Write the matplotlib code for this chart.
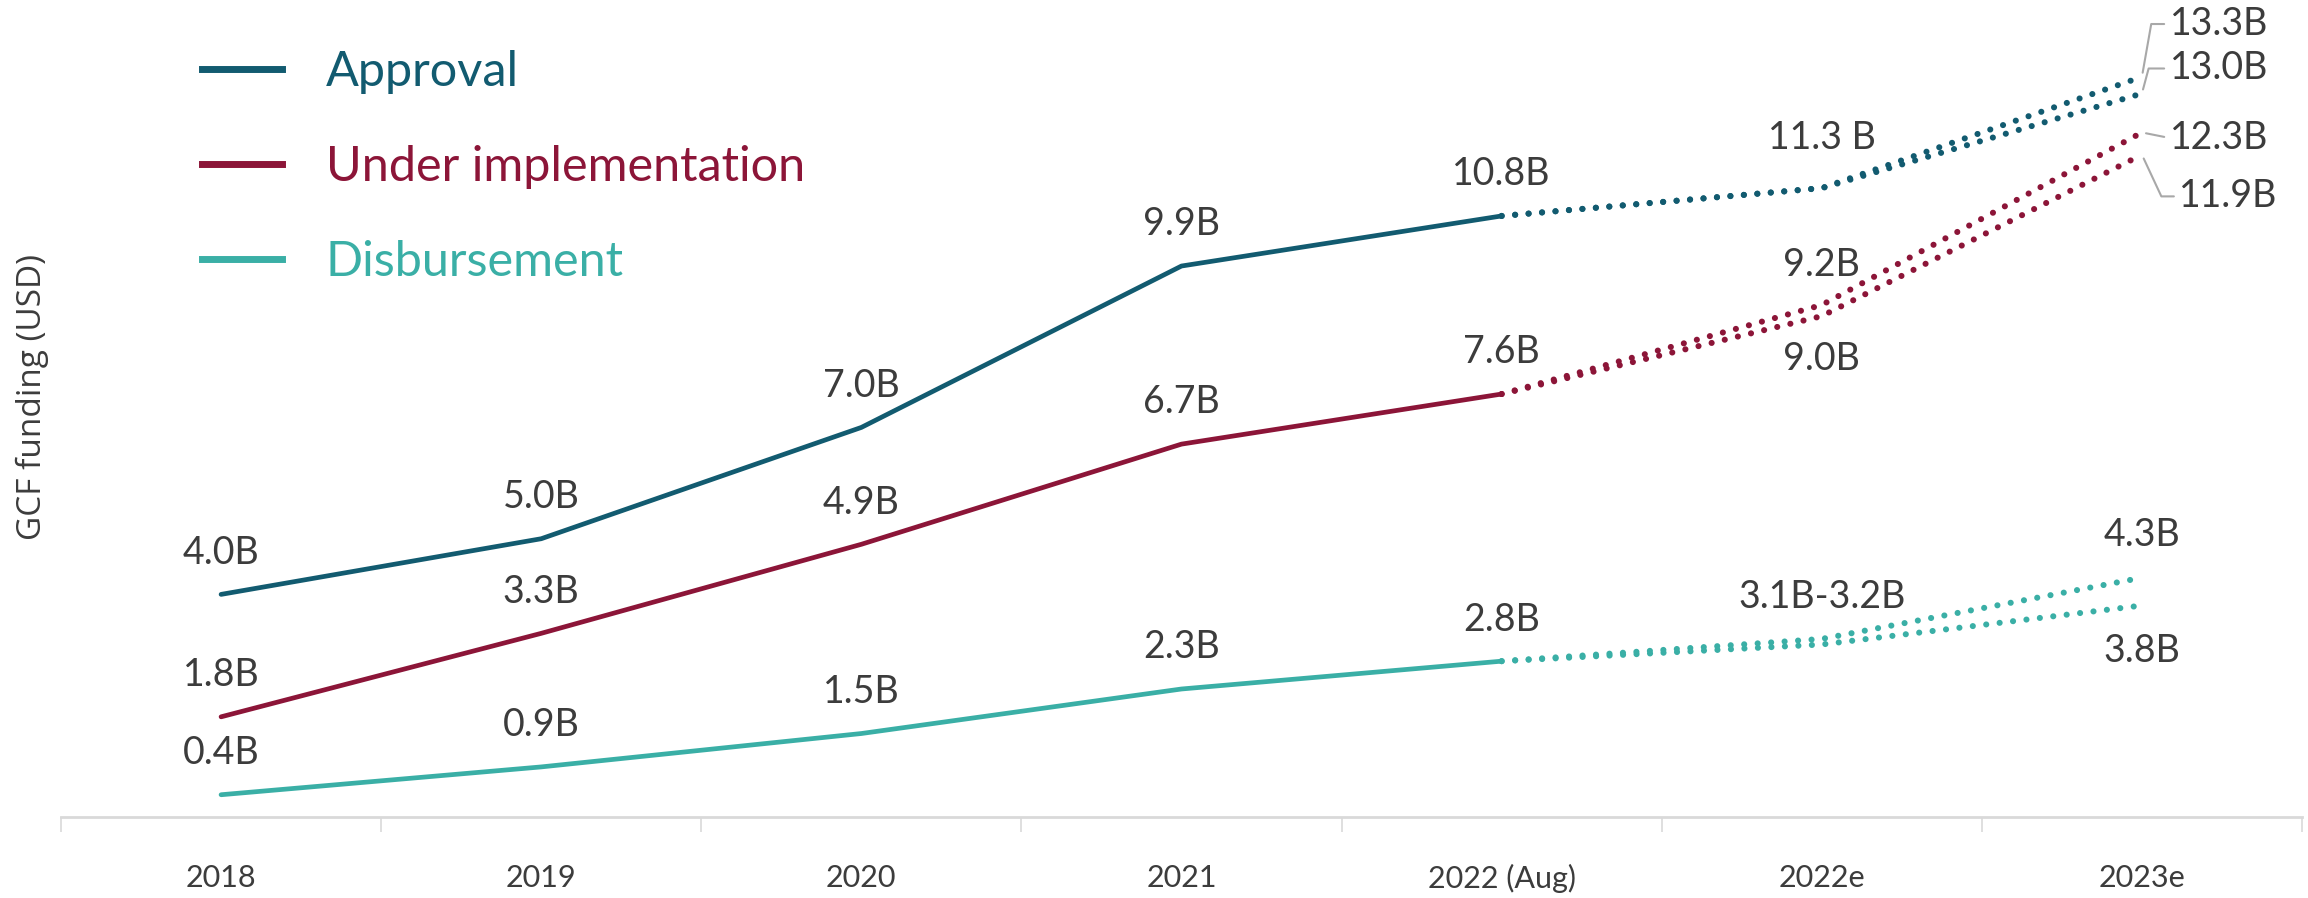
import matplotlib.pyplot as plt
from matplotlib.lines import Line2D

plt.rcParams['font.family'] = ['Lato', 'DejaVu Sans']

years = ['2018', '2019', '2020', '2021', '2022 (Aug)', '2022e', '2023e']

# actuals 2018 .. 2022 (Aug)
approval = [4.0, 5.0, 7.0, 9.9, 10.8]
under_impl = [1.8, 3.3, 4.9, 6.7, 7.6]
disbursement = [0.4, 0.9, 1.5, 2.3, 2.8]

# projections 2022 (Aug) -> 2022e -> 2023e (high / low)
approval_hi = [10.8, 11.3, 13.3]
approval_lo = [10.8, 11.3, 13.0]
under_hi = [7.6, 9.2, 12.3]
under_lo = [7.6, 9.0, 11.9]
disb_hi = [2.8, 3.2, 4.3]
disb_lo = [2.8, 3.1, 3.8]

approval_labels = ['4.0B', '5.0B', '7.0B', '9.9B', '10.8B']
under_labels = ['1.8B', '3.3B', '4.9B', '6.7B', '7.6B']
disb_labels = ['0.4B', '0.9B', '1.5B', '2.3B', '2.8B']

c_app = '#125b70'
c_und = '#8c1538'
c_dis = '#3aafa6'
c_txt = '#3c3c3c'
c_lead = '#a8a8a8'

fig = plt.figure(figsize=(23.08, 8.98), dpi=100)
ax = fig.add_axes([61 / 2308, 81 / 898, (2302 - 61) / 2308, 1 - 81 / 898])

x_act = list(range(5))
x_proj = [4, 5, 6]

lw = 3.4
for vals, col in [(approval, c_app), (under_impl, c_und), (disbursement, c_dis)]:
    ax.plot(x_act, vals, color=col, lw=lw, solid_capstyle='round', zorder=3)

dot = (0, (0.01, 2.2))
for vals, col in [(approval_hi, c_app), (approval_lo, c_app), (under_hi, c_und),
                  (under_lo, c_und), (disb_hi, c_dis), (disb_lo, c_dis)]:
    ax.plot(x_proj, vals, color=col, lw=4.4, linestyle=dot, dash_capstyle='round', zorder=3)

fs_lab = 27
def lab(x, y, s, dy=30, dx=0, ha='center'):
    ax.annotate(s, (x, y), xytext=(dx, dy), textcoords='offset points',
                ha=ha, va='center', fontsize=fs_lab, color=c_txt, zorder=4)

for i in range(5):
    lab(i, approval[i], approval_labels[i])
    lab(i, under_impl[i], under_labels[i])
    lab(i, disbursement[i], disb_labels[i])

lab(5, approval_hi[1], '11.3 B', dy=36)
lab(5, under_hi[1], '9.2B', dy=29)
lab(5, under_lo[1], '9.0B', dy=-31)
lab(5, disb_hi[1], '3.1B-3.2B', dy=30)
lab(6, disb_hi[2], '4.3B', dy=31)
lab(6, disb_lo[2], '3.8B', dy=-33)

# leader-line labels at 2023e
def lead(y, s, dx, dy, conn):
    ax.annotate(s, (6, y), xytext=(dx, dy), textcoords='offset points',
                ha='left', va='center', fontsize=fs_lab, color=c_txt,
                arrowprops=dict(arrowstyle='-', color=c_lead, lw=1.5, shrinkA=2, shrinkB=3,
                                relpos=(0, 0.5), connectionstyle=conn),
                zorder=4)

lead(approval_hi[2], '13.3B', 20, 38, 'angle,angleA=180,angleB=80,rad=0')
lead(approval_lo[2], '13.0B', 20, 18, 'angle,angleA=180,angleB=75,rad=0')
lead(under_hi[2], '12.3B', 20, -4, 'arc3,rad=0')
lead(under_lo[2], '11.9B', 27, -30, 'angle,angleA=180,angleB=115,rad=0')

ax.set_xlim(-0.5, 6.5)
ax.set_ylim(0, 14.68)
ax.set_facecolor('none')
for s in ['top', 'right', 'left']:
    ax.spines[s].set_visible(False)
ax.spines['bottom'].set_color('#d9d9d9')
ax.spines['bottom'].set_linewidth(2)
ax.set_yticks([])
ax.set_xticks(range(7))
ax.set_xticklabels(years, fontsize=22, color=c_txt)
ax.tick_params(axis='x', which='major', length=0, pad=34)
ax.set_xticks([i - 0.5 for i in range(8)], minor=True)
ax.tick_params(axis='x', which='minor', length=11, width=1.2, color='#d9d9d9')

fig.text(32 / 2308, 1 - 397 / 898, 'GCF funding (USD)', rotation=90, ha='center', va='center',
         fontsize=24, color=c_txt, family=['Open Sans', 'DejaVu Sans'])

handles = [Line2D([], [], color=c, lw=5) for c in (c_app, c_und, c_dis)]
ax.legend(handles, ['Approval', 'Under implementation', 'Disbursement'],
          loc='upper left', bbox_to_anchor=(202 / 2308, 1 - 50 / 898), bbox_transform=fig.transFigure,
          frameon=False, fontsize=35, labelcolor=[c_app, c_und, c_dis],
          handlelength=1.65, handletextpad=0.9, labelspacing=1.05, borderpad=0, borderaxespad=0)

fig.savefig('out.png', dpi=100)
